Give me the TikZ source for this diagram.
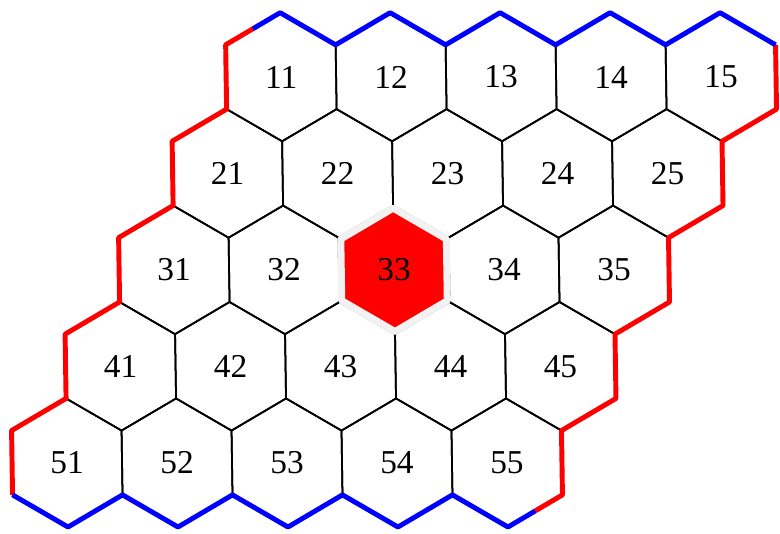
\documentclass[tikz,border=0pt]{standalone}
\usepackage{fontspec}
\setmainfont{Liberation Serif}
\usetikzlibrary{calc}

\definecolor{shadowgray}{RGB}{185,165,165}
\tikzset{
  hexcell/.style={draw=black, line width=1pt, line join=round},
  redside/.style={draw=red, line width=2.8pt, line join=round},
  blueside/.style={draw=blue, line width=2.8pt, line join=round},
  celllabel/.style={font=\fontsize{19}{21}\selectfont, inner sep=0pt}
}

\begin{document}
\begin{tikzpicture}[x=0.02cm, y={(0.0003cm,-0.02cm)}]
				\useasboundingbox (0,0) rectangle (771.99,534);
				% cell centres and corners
				\foreach \i in {1,...,5} {
					\foreach \j in {1,...,5} {
						\pgfmathsetmacro\cx{280+110*(\j-1)-55*(\i-1)}
						\pgfmathsetmacro\cy{77+96.45*(\i-1)}
						\coordinate (c\i\j) at (\cx,\cy);
						\coordinate (c\i\j-n) at (\cx,\cy-64.3);
						\coordinate (c\i\j-ne) at (\cx+55,\cy-32.15);
						\coordinate (c\i\j-se) at (\cx+55,\cy+32.15);
						\coordinate (c\i\j-s) at (\cx,\cy+64.3);
						\coordinate (c\i\j-sw) at (\cx-55,\cy+32.15);
						\coordinate (c\i\j-nw) at (\cx-55,\cy-32.15);
						\draw[hexcell] (c\i\j-n) -- (c\i\j-ne) -- (c\i\j-se) -- (c\i\j-s) -- (c\i\j-sw) -- (c\i\j-nw) -- cycle;
					}
				}
				% chosen cell
				\draw[draw=shadowgray, line width=3pt, shift={(2.5,2.5)}]
					($(c33)!0.96!(c33-n)$) -- ($(c33)!0.96!(c33-ne)$) -- ($(c33)!0.96!(c33-se)$) -- ($(c33)!0.96!(c33-s)$) -- ($(c33)!0.96!(c33-sw)$) -- ($(c33)!0.96!(c33-nw)$) -- cycle;
				\fill[red]
					($(c33)!0.93!(c33-n)$) -- ($(c33)!0.93!(c33-ne)$) -- ($(c33)!0.93!(c33-se)$) -- ($(c33)!0.93!(c33-s)$) -- ($(c33)!0.93!(c33-sw)$) -- ($(c33)!0.93!(c33-nw)$) -- cycle;
				\draw[draw=gray!10, line width=4pt, line join=round]
					($(c33)!0.96!(c33-n)$) -- ($(c33)!0.96!(c33-ne)$) -- ($(c33)!0.96!(c33-se)$) -- ($(c33)!0.96!(c33-s)$) -- ($(c33)!0.96!(c33-sw)$) -- ($(c33)!0.96!(c33-nw)$) -- cycle;
				% red sides
				\draw[redside] ($(c11-nw)!0.5!(c11-n)$) -- (c11-nw) -- (c11-sw) -- (c21-nw) -- (c21-sw) -- (c31-nw) -- (c31-sw) -- (c41-nw) -- (c41-sw) -- (c51-nw) -- (c51-sw);
				\draw[redside] ($(c55-s)!0.5!(c55-se)$) -- (c55-se) -- (c55-ne) -- (c45-se) -- (c45-ne) -- (c35-se) -- (c35-ne) -- (c25-se) -- (c25-ne) -- (c15-se) -- (c15-ne);
				% blue sides
				\draw[blueside] (c51-sw) -- (c51-s) -- (c51-se) -- (c52-s) -- (c52-se) -- (c53-s) -- (c53-se) -- (c54-s) -- (c54-se) -- (c55-s) -- ($(c55-s)!0.5!(c55-se)$);
				\draw[blueside] (c15-ne) -- (c15-n) -- (c15-nw) -- (c14-n) -- (c14-nw) -- (c13-n) -- (c13-nw) -- (c12-n) -- (c12-nw) -- (c11-n) -- ($(c11-nw)!0.5!(c11-n)$);
				% labels
				\foreach \i in {1,...,5} {
					\foreach \j in {1,...,5} {
						\node[celllabel] (n\i\j) at (c\i\j) {\i\j};
					}
				}
			\end{tikzpicture}
\end{document}
